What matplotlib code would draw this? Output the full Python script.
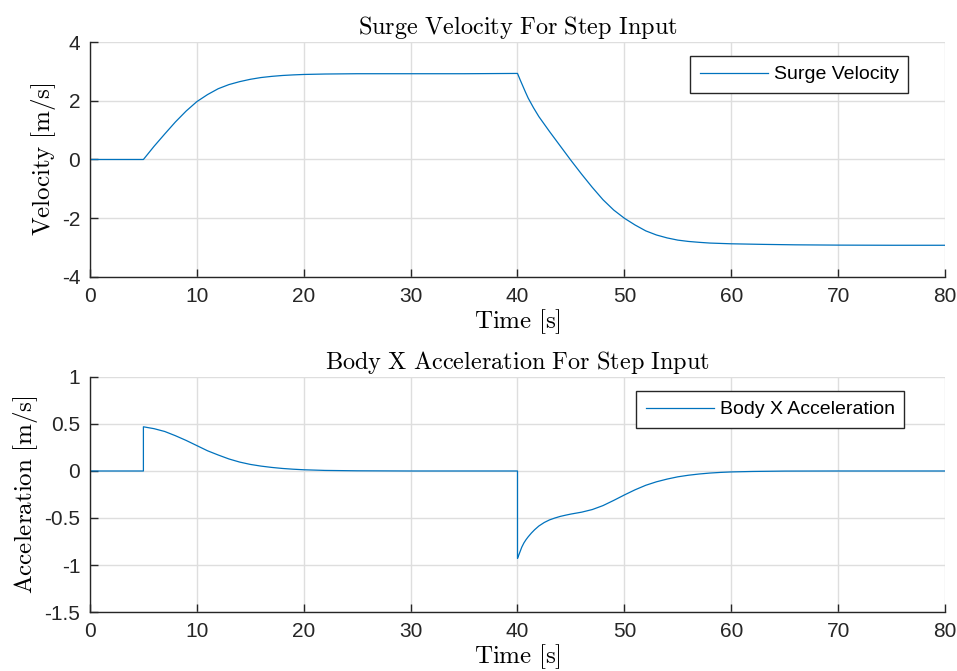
import numpy as np
import matplotlib
matplotlib.use("Agg")
import matplotlib.pyplot as plt

# ── Data ────────────────────────────────────────────────────────────────────
vel_t = [0, 5, 6, 7, 8, 9, 10, 11, 12, 13, 14, 15, 16, 17, 18, 19, 20, 22, 25,
         30, 35, 40, 40.25, 40.5, 40.75, 41, 41.5, 42, 43, 44, 45, 46, 47, 48,
         49, 50, 51, 52, 53, 54, 55, 56, 57, 58, 60, 63, 66, 70, 75, 80]
vel = [0, 0, 0.45, 0.87, 1.28, 1.65, 1.97, 2.21, 2.41, 2.55, 2.65, 2.73, 2.79,
       2.83, 2.86, 2.88, 2.895, 2.91, 2.92, 2.92, 2.92, 2.93, 2.71, 2.5, 2.29,
       2.09, 1.76, 1.46, 0.95, 0.46, -0.03, -0.5, -0.95, -1.37, -1.72, -2.0,
       -2.23, -2.43, -2.57, -2.67, -2.745, -2.79, -2.82, -2.845, -2.87, -2.89,
       -2.905, -2.915, -2.92, -2.92]

acc_t = [0, 5, 5, 6, 7, 8, 9, 10, 11, 12, 13, 14, 15, 16, 17, 18, 19, 20, 22,
         25, 30, 40, 40, 40.1, 40.2, 40.3, 40.4, 40.6, 40.8, 41, 41.3, 41.6, 42,
         42.5, 43, 43.5, 44, 44.5, 45, 46, 47, 48, 49, 50, 51, 52, 53, 54, 55,
         56, 57, 58, 59, 60, 62, 65, 70, 80]
acc = [0, 0, 0.47, 0.45, 0.42, 0.375, 0.325, 0.27, 0.215, 0.17, 0.128, 0.095,
       0.07, 0.052, 0.038, 0.027, 0.019, 0.013, 0.006, 0.002, 0, 0, -0.93,
       -0.90, -0.87, -0.84, -0.81, -0.765, -0.73, -0.70, -0.66, -0.625,
       -0.585, -0.548, -0.52, -0.50, -0.483, -0.47, -0.458, -0.438, -0.41,
       -0.368, -0.313, -0.255, -0.2, -0.152, -0.115, -0.086, -0.062, -0.045,
       -0.032, -0.022, -0.015, -0.01, -0.005, -0.001, 0, 0]

x_ticks = [0, 10, 20, 30, 40, 50, 60, 70, 80]
vel_ticks = [-4, -2, 0, 2, 4]
vel_labels = ["-4", "-2", "0", "2", "4"]
acc_ticks = [-1.5, -1, -0.5, 0, 0.5, 1]
acc_labels = ["-1.5", "-1", "-0.5", "0", "0.5", "1"]

BLUE = "#0072BD"
AXC = "#262626"

plt.rcParams["font.family"] = ["Liberation Sans", "DejaVu Sans"]
plt.rcParams["mathtext.fontset"] = "cm"
plt.rcParams["axes.unicode_minus"] = False

fig = plt.figure(figsize=(9.57, 6.71), dpi=100)
ax1 = fig.add_axes([0.0940, 0.5872, 0.8935, 0.3502])
ax2 = fig.add_axes([0.0940, 0.0879, 0.8935, 0.3503])


def style(ax, yticks, ylabels, ylim):
    ax.set_xlim(0, 80)
    ax.set_ylim(*ylim)
    ax.set_xticks(x_ticks)
    ax.set_xticklabels([str(v) for v in x_ticks])
    ax.set_yticks(yticks)
    ax.set_yticklabels(ylabels)
    ax.grid(True, color="#dedede", linewidth=1.0)
    ax.set_axisbelow(True)
    for s in ("top", "right"):
        ax.spines[s].set_visible(False)
    for s in ("left", "bottom"):
        ax.spines[s].set_color(AXC)
        ax.spines[s].set_linewidth(1.0)
    ax.tick_params(direction="in", length=6, width=1.0, color=AXC,
                   labelcolor=AXC, labelsize=15)
    ax.tick_params(axis="x", pad=7)
    ax.tick_params(axis="y", pad=7)


def legend(ax, x0):
    leg = ax.legend(loc="upper left", bbox_to_anchor=(x0, 0.9404),
                    borderaxespad=0, fontsize=14, frameon=True, fancybox=False,
                    framealpha=1, edgecolor=AXC, borderpad=0.5,
                    handlelength=3.5, handletextpad=0.3)
    leg.get_frame().set_linewidth(1.0)


# 1. Surge velocity
ax1.plot(vel_t, vel, color=BLUE, linewidth=0.9, label="Surge Velocity")
style(ax1, vel_ticks, vel_labels, (-4, 4))
ax1.set_title(r"$\mathrm{Surge\ Velocity\ For\ Step\ Input}$", fontsize=17.5, pad=6)
ax1.set_xlabel(r"$\mathrm{Time\ [s]}$", fontsize=18, labelpad=1)
ax1.set_ylabel(r"$\mathrm{Velocity\ [m/s]}$", fontsize=18, labelpad=3)
legend(ax1, 0.7018)

# 2. Body X acceleration
ax2.plot(acc_t, acc, color=BLUE, linewidth=0.9, label="Body X Acceleration")
style(ax2, acc_ticks, acc_labels, (-1.5, 1))
ax2.set_title(r"$\mathrm{Body\ X\ Acceleration\ For\ Step\ Input}$", fontsize=17.5, pad=6)
ax2.set_xlabel(r"$\mathrm{Time\ [s]}$", fontsize=18, labelpad=1)
ax2.set_ylabel(r"$\mathrm{Acceleration\ [m/s]}$", fontsize=18, labelpad=3)
legend(ax2, 0.6386)

fig.savefig("out.png", dpi=100)
